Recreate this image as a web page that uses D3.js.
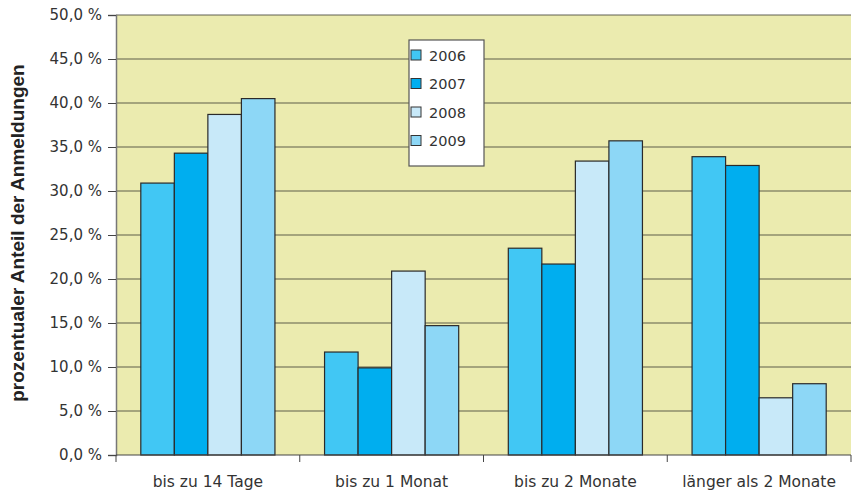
<!DOCTYPE html>
<html>
<head>
<meta charset="utf-8">
<script src="https://cdn.jsdelivr.net/npm/d3@7"></script>
<style>
  html, body { margin: 0; padding: 0; background: #fff; }
  svg { display: block; }
  text { fill: #222; }
</style>
</head>
<body>
<svg id="chart" width="857" height="495"></svg>
<script>
// Anteil der Anmeldungen nach Zeitraum, 2006–2009
const categories = ["bis zu 14 Tage", "bis zu 1 Monat", "bis zu 2 Monate", "länger als 2 Monate"];
const years = ["2006", "2007", "2008", "2009"];
const values2006 = [30.9, 11.7, 23.5, 33.9];
const values2007 = [34.3, 9.9, 21.7, 32.9];
const values2008 = [38.7, 20.9, 33.4, 6.5];
const values2009 = [40.5, 14.7, 35.7, 8.1];
const yTicks = [0, 5, 10, 15, 20, 25, 30, 35, 40, 45, 50];
const colors = ["#41C7F4", "#00AEEF", "#C8E9F9", "#8DD7F6"];

const series = [values2006, values2007, values2008, values2009];
const bodyFont = "'DejaVu Sans', 'Open Sans', sans-serif";

const svg = d3.select("#chart");
const margin = { left: 116, right: 6, top: 15, bottom: 40 };
const W = 857, H = 495;
const plotW = W - margin.left - margin.right;
const plotH = H - margin.top - margin.bottom;

const x0 = d3.scaleBand().domain(categories).range([0, plotW]).paddingInner(0.27).paddingOuter(0.135);
const x1 = d3.scaleBand().domain(years).range([0, x0.bandwidth()]);
const y = d3.scaleLinear().domain([0, 50]).range([plotH, 0]);

const g = svg.append("g").attr("transform", `translate(${margin.left},${margin.top})`);

// plot background
g.append("rect").attr("width", plotW).attr("height", plotH).attr("fill", "#EBEBAF");

// gridlines
g.append("g").selectAll("line").data(yTicks.filter(t => t > 0)).join("line")
  .attr("x1", 0).attr("x2", plotW)
  .attr("y1", d => y(d)).attr("y2", d => y(d))
  .attr("stroke", "#3a3a30").attr("stroke-width", 1.2).attr("stroke-opacity", 0.8);

// bars
const groups = g.append("g").selectAll("g").data(categories).join("g")
  .attr("transform", d => `translate(${x0(d)},0)`);

groups.selectAll("rect").data((c, i) => years.map((yr, j) => ({ yr, v: series[j][i], j })))
  .join("rect")
  .attr("x", d => x1(d.yr))
  .attr("y", d => y(d.v))
  .attr("width", x1.bandwidth())
  .attr("height", d => plotH - y(d.v))
  .attr("fill", d => colors[d.j])
  .attr("stroke", "#2a2a2a")
  .attr("stroke-width", 1.2);

// y axis
const yAxis = d3.axisLeft(y).tickValues(yTicks).tickSize(8).tickPadding(6)
  .tickFormat(d => d3.format(".1f")(d).replace(".", ",") + " %");
const ya = g.append("g").call(yAxis);
ya.select(".domain").attr("stroke", "#777").attr("stroke-width", 1.5);
ya.selectAll(".tick line").attr("stroke", "#444");
ya.selectAll("text").style("font-family", bodyFont).style("font-size", "15px").style("fill", "#333");

// x axis
const xa = g.append("g").attr("transform", `translate(0,${plotH})`);
xa.append("line").attr("x1", 0).attr("x2", plotW).attr("stroke", "#444").attr("stroke-width", 1.2);
const bounds = categories.map(c => x0(c) - x0.step() * x0.paddingInner() / 2).concat([plotW]);
xa.selectAll(".xt").data(bounds).join("line").attr("class", "xt")
  .attr("x1", d => d).attr("x2", d => d).attr("y1", 0).attr("y2", 7)
  .attr("stroke", "#444");
xa.selectAll(".xl").data(categories).join("text").attr("class", "xl")
  .attr("x", d => x0(d) + x0.bandwidth() / 2)
  .attr("y", 32)
  .attr("text-anchor", "middle")
  .style("font-family", bodyFont)
  .style("font-size", "15.5px")
  .style("fill", "#333")
  .text(d => d);

// y axis title
svg.append("text")
  .attr("transform", `translate(24,${margin.top + plotH / 2 - 2}) rotate(-90)`)
  .attr("text-anchor", "middle")
  .style("font-family", "'Liberation Sans', Arial, sans-serif")
  .style("font-weight", "bold")
  .style("font-size", "19px")
  .style("fill", "#222")
  .text("prozentualer Anteil der Anmeldungen");

// legend
const leg = svg.append("g").attr("transform", "translate(409,40)");
leg.append("rect").attr("width", 75).attr("height", 126)
  .attr("fill", "#fff").attr("stroke", "#555").attr("stroke-width", 1.2);
const li = leg.selectAll("g").data(years).join("g")
  .attr("transform", (d, i) => `translate(0,${15 + i * 28.5})`);
li.append("rect").attr("x", 2).attr("y", -5).attr("width", 10).attr("height", 10)
  .attr("fill", (d, i) => colors[i]).attr("stroke", "#333").attr("stroke-width", 1);
li.append("text").attr("x", 20).attr("y", 5.5)
  .style("font-family", bodyFont).style("font-size", "14.5px").style("fill", "#333")
  .text(d => d);
</script>
</body>
</html>
